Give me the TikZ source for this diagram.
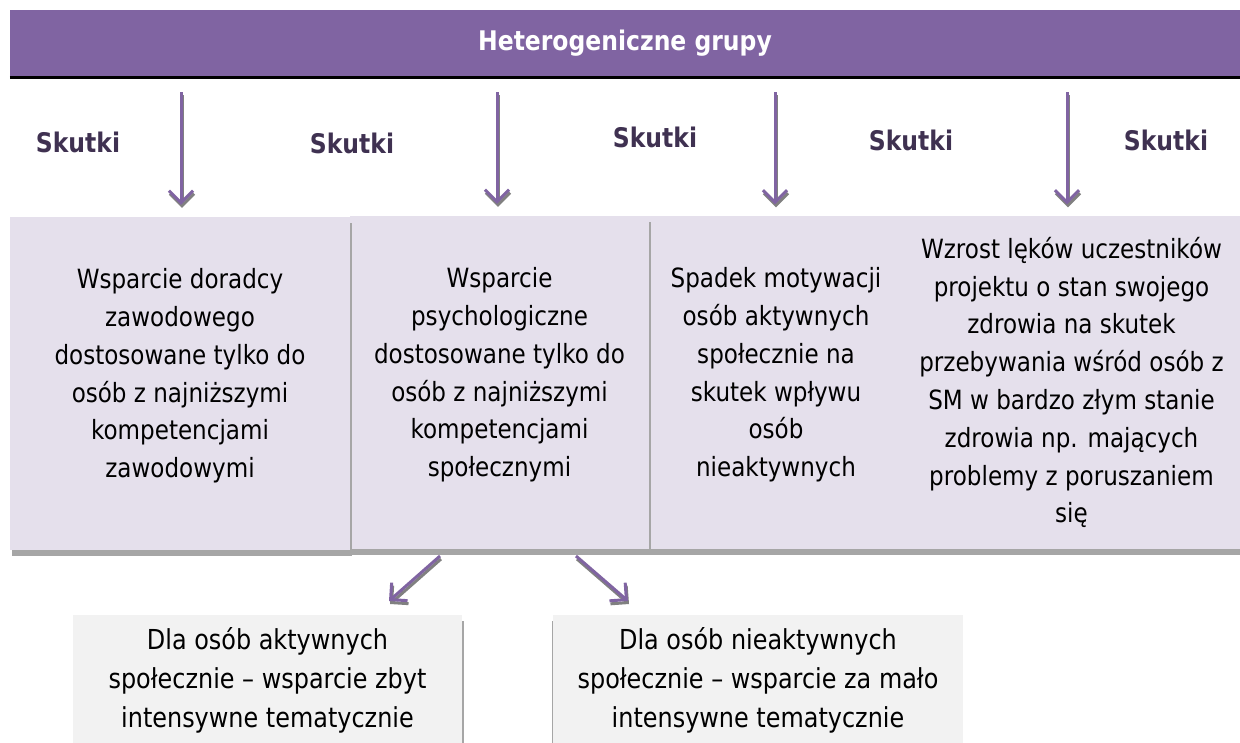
\documentclass[tikz,border=0pt]{standalone}
\usepackage{fontspec}
\setmainfont{DejaVu Sans}[FakeStretch=0.87]
\usetikzlibrary{arrows.meta,shadows}
\definecolor{hpurple}{HTML}{8064A2}
\definecolor{lav}{HTML}{E5E0EC}
\definecolor{dpurple}{HTML}{3F3151}
\definecolor{lgray}{HTML}{F2F2F2}
\definecolor{shgray}{HTML}{A6A6A6}
\newcommand{\liftend}{\\[-17pt]\rule{0pt}{0pt}}
\begin{document}
\begin{tikzpicture}[x=1pt,y=-1pt,
 hdrbox/.style={fill=hpurple, minimum width=1230pt, minimum height=66pt, inner sep=0pt, text=white, font=\bfseries\fontsize{27}{32}\selectfont},
 effbox/.style={fill=lav, inner sep=0pt, align=center, font=\fontsize{26.5}{37.8}\selectfont,
   drop shadow={shadow xshift=1.5pt, shadow yshift=-6pt, fill=shgray, opacity=1}},
 subbox/.style={fill=lgray, inner sep=0pt, align=center, font=\fontsize{27.5}{39}\selectfont},
 skutki/.style={text=dpurple, font=\bfseries\fontsize{27}{32}\selectfont, inner sep=0pt},
 arr/.style={draw=hpurple, line width=3pt, -{Straight Barb[length=12pt,width=24pt]}},
 arrsh/.style={draw=black!50, line width=3pt, -{Straight Barb[length=12pt,width=24pt]}, transform canvas={xshift=1pt,yshift=-3pt}},
]
\useasboundingbox (0,0) rectangle (1240,743);

% header
\node[hdrbox] (hdr) at (625,43) {Heterogeniczne grupy};
\draw[line width=3pt] ([yshift=-1.5pt,xshift=0pt]hdr.south west) -- ([yshift=-1.5pt]hdr.south east);

% effect boxes
\node[effbox, minimum width=254pt, minimum height=332pt] (b3) at (776,382.5)
 {Spadek motywacji\\ osób aktywnych\\ społecznie na\\ skutek wpływu\\ osób\\ nieaktywnych\liftend};
\node[effbox, minimum width=337pt, minimum height=332pt] (b4) at (1071.5,382.5)
 {Wzrost lęków uczestników\\ projektu o stan swojego\\ zdrowia na skutek\\ przebywania wśród osób z\\ SM w bardzo złym stanie\\ zdrowia np. mających\\ problemy z poruszaniem\\ się};
\node[effbox, minimum width=299pt, minimum height=333pt] (b2) at (499.5,382.5)
 {Wsparcie\\ psychologiczne\\ dostosowane tylko do\\ osób z najniższymi\\ kompetencjami\\ społecznymi\liftend};
\node[effbox, minimum width=340pt, minimum height=333pt] (b1) at (180,383.5)
 {Wsparcie doradcy\\ zawodowego\\ dostosowane tylko do\\ osób z najniższymi\\ kompetencjami\\ zawodowymi\liftend};

% bottom boxes
\node[subbox, minimum width=389pt, minimum height=130pt,
  drop shadow={shadow xshift=1.5pt, shadow yshift=-6pt, fill=shgray, opacity=1}] (b5) at (267.5,680)
 {Dla osób aktywnych\\ społecznie – wsparcie zbyt\\ intensywne tematycznie};
\node[subbox, minimum width=410pt, minimum height=130pt,
  drop shadow={shadow xshift=-1.5pt, shadow yshift=-6pt, fill=shgray, opacity=1}] (b6) at (758,680)
 {Dla osób nieaktywnych\\ społecznie – wsparcie za mało\\ intensywne tematycznie};

% labels
\node[skutki] (s1) at (78,142) {Skutki};
\node[skutki] (s2) at (352,143) {Skutki};
\node[skutki] (s3) at (655,137) {Skutki};
\node[skutki] (s4) at (911,140) {Skutki};
\node[skutki] (s5) at (1166,140) {Skutki};

% vertical arrows
\coordinate (a1) at ([xshift=1pt]b1.north);
\coordinate (a2) at ([xshift=-2.5pt]b2.north);
\coordinate (a3) at ([xshift=-1pt]b3.north);
\coordinate (a4) at ([xshift=-4.5pt]b4.north);
\foreach \a in {a1,a2,a3,a4}{
  \draw[arrsh, shorten <=16pt, shorten >=12pt] (hdr.south -| \a) -- (\a);
  \draw[arr, shorten <=16pt, shorten >=12pt] (hdr.south -| \a) -- (\a);
}

% diagonal arrows
\coordinate (d1a) at (440,556);
\coordinate (d1b) at (389,601);
\coordinate (d2a) at (576,556);
\coordinate (d2b) at (628,601);
\draw[arrsh] (d1a) -- (d1b);
\draw[arr] (d1a) -- (d1b);
\draw[arrsh] (d2a) -- (d2b);
\draw[arr] (d2a) -- (d2b);
\end{tikzpicture}
\end{document}
